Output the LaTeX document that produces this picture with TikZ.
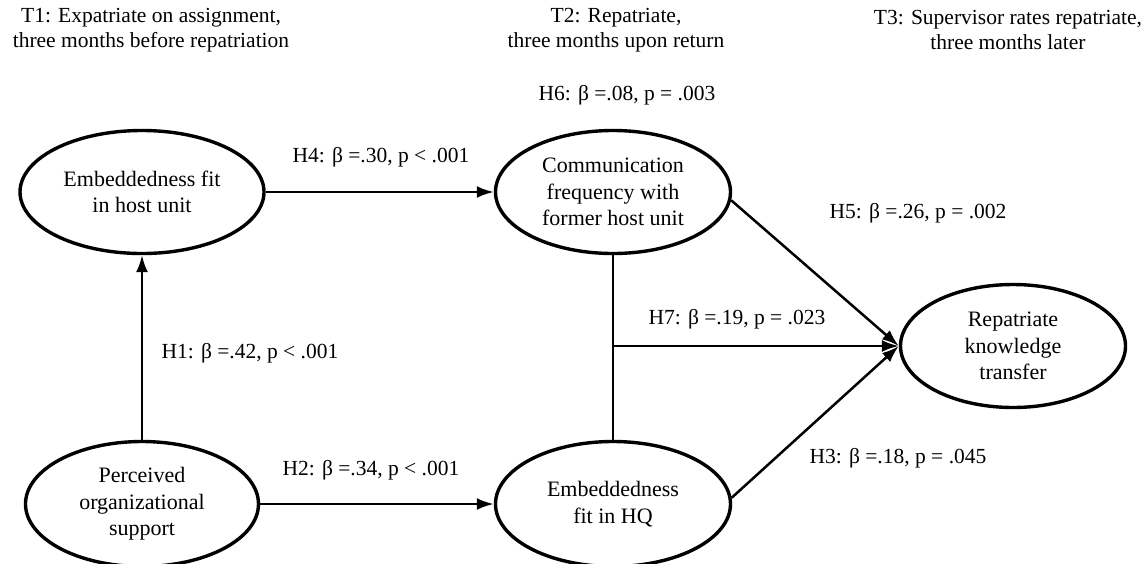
\documentclass[tikz,border=0pt]{standalone}
\usepackage{fontspec}
\setmainfont{Liberation Serif}
\usetikzlibrary{shapes.geometric,arrows.meta}
\tikzset{
  var/.style={draw, ellipse, line width=3.4pt, inner sep=0pt, align=center,
    font=\fontsize{22}{26.5}\selectfont},
  lbl/.style={inner sep=0pt, font=\fontsize{21.5}{25}\selectfont},
  hdr/.style={inner sep=0pt, align=center, font=\fontsize{21.5}{25}\selectfont},
  arr/.style={line width=2.5pt, -{Latex[length=17pt,width=12pt]}},
  plain/.style={line width=2.5pt}
}
\begin{document}
\begin{tikzpicture}[x=1pt,y=-1pt]
\clip (0,0) rectangle (1148,563);
\fill[white] (0,0) rectangle (1148,563);

% headers
\node[hdr] (t1) at (151,30) {T1: Expatriate on assignment,\\three months before repatriation};
\node[hdr] (t2) at (616,30) {T2: Repatriate,\\three months upon return};
\node[hdr] (t3) at (1008,30) {T3: Supervisor rates repatriate,\\three months later};

% variables
\node[var, minimum width=244pt, minimum height=123pt] (ehu) at (142,192) {Embeddedness fit\\in host unit};
\node[var, minimum width=235pt, minimum height=123pt] (comm) at (613,192) {Communication\\frequency with\\former host unit};
\node[var, minimum width=225pt, minimum height=123pt] (rkt) at (1013,346) {Repatriate\\knowledge\\transfer};
\node[var, minimum width=233pt, minimum height=125pt] (pos) at (142,504) {Perceived\\organizational\\support};
\node[var, minimum width=235pt, minimum height=125pt] (ehq) at (613,504) {Embeddedness\\fit in HQ};

% connectors
\draw[arr] (pos) -- (ehu);
\draw[arr] (ehu) -- (comm);
\draw[arr] (pos) -- (ehq);
\draw[arr] (comm.-4) -- (rkt.west);
\draw[arr] (ehq.3) -- (rkt.west);
\draw[plain] (comm.south) -- (ehq.north);
\coordinate (h7) at (comm.south |- rkt.west);
\draw[arr] (h7) -- (rkt.west);

% labels
\node[lbl] (l4) at (381,157) {H4: β =.30, p < .001};
\node[lbl] (l6) at (627,95) {H6: β =.08, p = .003};
\node[lbl] (l5) at (918,213) {H5: β =.26, p = .002};
\node[lbl] (l7) at (737,319) {H7: β =.19, p = .023};
\node[lbl] (l1) at (250,353) {H1: β =.42, p < .001};
\node[lbl] (l2) at (371,470) {H2: β =.34, p < .001};
\node[lbl] (l3) at (898,458) {H3: β =.18, p = .045};
\end{tikzpicture}
\end{document}
